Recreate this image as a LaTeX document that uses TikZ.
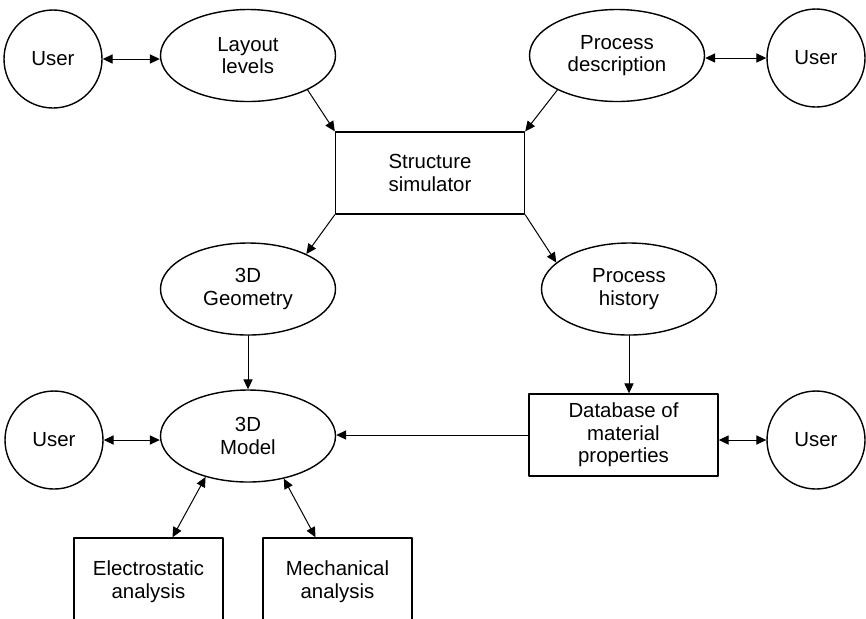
\documentclass[tikz,border=0pt]{standalone}
\usepackage{fontspec}
\setmainfont{Liberation Sans}
\usetikzlibrary{arrows.meta,shapes.geometric}
\begin{document}
\begin{tikzpicture}[x=0.5pt, y=-0.5pt, line cap=round, line join=round,
  every node/.style={font=\fontsize{10.2}{11.3}\selectfont, align=center, inner sep=0pt},
  usr/.style={draw, circle, line width=.7pt, minimum size=49pt},
  oval/.style={draw, ellipse, line width=.7pt, minimum width=87.5pt, minimum height=46pt},
  blk/.style={draw, rectangle, line width=.7pt, minimum width=94.5pt, minimum height=41pt},
  half/.style={draw, rectangle, line width=.7pt, minimum width=74.5pt, minimum height=44pt},
  >={Triangle[length=5pt,width=4.6pt]}]
  \useasboundingbox (0,0) rectangle (866,618);
  \clip (0,0) rectangle (866,618);

  \node[usr]  (U1)   at (53,59)     {User};
  \node[oval] (lay)  at (248,55.5)  {Layout\\levels};
  \node[oval] (desc) at (617,55.5)  {Process\\description};
  \node[usr]  (U2)   at (816,58)    {User};
  \node[blk]  (sim)  at (430,173)   {Structure\\simulator};
  \node[oval] (geo)  at (248,289)   {3D\\Geometry};
  \node[oval] (hist) at (629,289)   {Process\\history};
  \node[usr]  (U3)   at (54,440)    {User};
  \node[oval] (mod)  at (248,436)   {3D\\Model};
  \node[blk]  (db)   at (623.5,435) {Database of\\material\\properties};
  \node[usr]  (U4)   at (816,440)   {User};
  \node[half] (el)   at (148.5,582) {Electrostatic\\analysis};
  \node[half] (mech) at (337.5,582) {Mechanical\\analysis};

  \draw[<->, line width=.5pt] (U1.east) -- (U1.east -| lay.west);
  \draw[<->, line width=.5pt] (U2.west) -- (U2.west -| desc.east);
  \draw[->, line width=.5pt] (lay.330) -- (sim.north west);
  \draw[->, line width=.5pt] (desc.210) -- (sim.north east);
  \draw[->, line width=.5pt] (sim.south west) -- (geo.31);
  \draw[->, line width=.5pt] (sim.south east) -- (hist.160);
  \draw[->, line width=.5pt] (geo.south) -- (mod.north);
  \draw[->, line width=.5pt] (hist.south) -- (hist.south |- db.north);
  \draw[->, line width=.5pt] (db.west) -- (db.west -| mod.east);
  \draw[<->, line width=.5pt] (U3.east) -- (U3.east -| mod.west);
  \draw[<->, line width=.5pt] (U4.west) -- (U4.west -| db.east);
  \draw[<->, line width=.5pt] (mod.224) -- ([xshift=12pt]el.north);
  \draw[<->, line width=.5pt] (mod.310) -- ([xshift=-11pt]mech.north);
\end{tikzpicture}
\end{document}
